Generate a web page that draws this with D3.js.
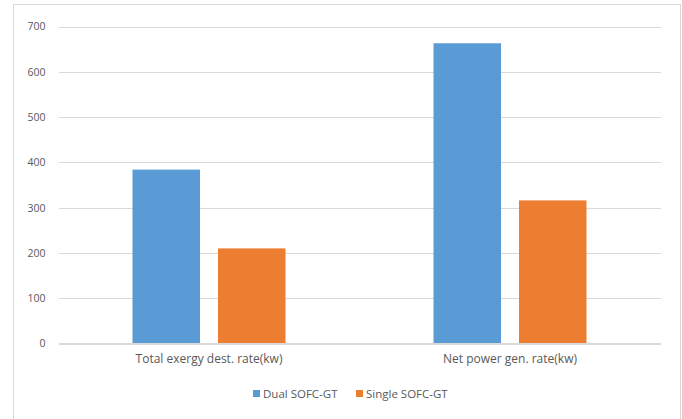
<!DOCTYPE html>
<html>
<head>
<meta charset="utf-8">
<script src="https://cdn.jsdelivr.net/npm/d3@7"></script>
<style>
  html, body { margin: 0; padding: 0; background: #fff; }
  svg { display: block; font-family: "Open Sans", "Liberation Sans", sans-serif; }
</style>
</head>
<body>
<svg id="chart" width="682" height="419"></svg>
<script>
// Chart data
const categories = ["Total exergy dest. rate(kw)", "Net power gen. rate(kw)"];
const seriesNames = ["Dual SOFC-GT", "Single SOFC-GT"];
const dualValues = [384, 663];
const singleValues = [210, 316];
const yTicks = [0, 100, 200, 300, 400, 500, 600, 700];

const colors = ["#5b9bd5", "#ed7d31"];
const textColor = "#595959";

const svg = d3.select("#chart");

// Outer chart border
svg.append("rect")
  .attr("x", 13.5).attr("y", 4.5)
  .attr("width", 667).attr("height", 430)
  .attr("fill", "#fff").attr("stroke", "#d9d9d9").attr("stroke-width", 1);

const plot = { left: 58.5, right: 660.5, top: 26.5, bottom: 343.5 };
const groupWidth = 153;

const x = d3.scaleBand()
  .domain(categories)
  .range([plot.left, plot.right]);

const xInner = d3.scaleBand()
  .domain(seriesNames)
  .range([0, groupWidth])
  .paddingInner(0.21);

const y = d3.scaleLinear()
  .domain([0, 700])
  .range([plot.bottom, plot.top]);

// Gridlines
const gridAxis = d3.axisLeft(y).tickValues(yTicks).tickSize(-(plot.right - plot.left)).tickFormat("");
const grid = svg.append("g")
  .attr("transform", `translate(${plot.left},0)`)
  .call(gridAxis);
grid.select(".domain").remove();
grid.selectAll("line").attr("stroke", "#d9d9d9").attr("stroke-width", 1)
  .attr("shape-rendering", "crispEdges");

// Y tick labels
const yAxis = d3.axisLeft(y).tickValues(yTicks).tickSize(0).tickPadding(13);
const ya = svg.append("g")
  .attr("transform", `translate(${plot.left},0)`)
  .call(yAxis);
ya.select(".domain").remove();
ya.selectAll("text")
  .attr("fill", textColor)
  .attr("font-size", "10.5px")
  .attr("font-family", "Open Sans, sans-serif");

// Bars
const rows = categories.map((c, i) => ({ cat: c, vals: [dualValues[i], singleValues[i]] }));
const groupOffset = (x.bandwidth() - groupWidth) / 2;
const groups = svg.append("g").selectAll("g")
  .data(rows)
  .join("g")
  .attr("transform", d => `translate(${x(d.cat) + groupOffset},0)`);

groups.selectAll("rect")
  .data(d => d.vals.map((v, j) => ({ name: seriesNames[j], v, j })))
  .join("rect")
  .attr("x", d => xInner(d.name))
  .attr("width", xInner.bandwidth())
  .attr("y", d => y(d.v))
  .attr("height", d => y(0) - y(d.v))
  .attr("fill", d => colors[d.j]);

// Baseline
svg.append("line")
  .attr("x1", plot.left).attr("x2", plot.right)
  .attr("y1", plot.bottom).attr("y2", plot.bottom)
  .attr("stroke", "#d9d9d9").attr("shape-rendering", "crispEdges");

// Category labels
const xAxis = d3.axisBottom(x).tickSize(0).tickPadding(11);
const xa = svg.append("g")
  .attr("transform", `translate(0,${plot.bottom})`)
  .call(xAxis);
xa.select(".domain").remove();
xa.selectAll("text")
  .attr("fill", textColor)
  .attr("font-size", "12px")
  .attr("font-family", "Open Sans, sans-serif");

// Legend
const legendItems = [
  { name: seriesNames[0], color: colors[0], x: 253 },
  { name: seriesNames[1], color: colors[1], x: 356 }
];
const lg = svg.append("g").selectAll("g")
  .data(legendItems)
  .join("g")
  .attr("transform", d => `translate(${d.x},390)`);
lg.append("rect")
  .attr("x", 0).attr("y", 0).attr("width", 7).attr("height", 7)
  .attr("fill", d => d.color);
lg.append("text")
  .attr("x", 10).attr("y", 3.5)
  .attr("dy", "0.35em")
  .attr("fill", textColor)
  .attr("font-size", "11.5px")
  .text(d => d.name);
</script>
</body>
</html>
